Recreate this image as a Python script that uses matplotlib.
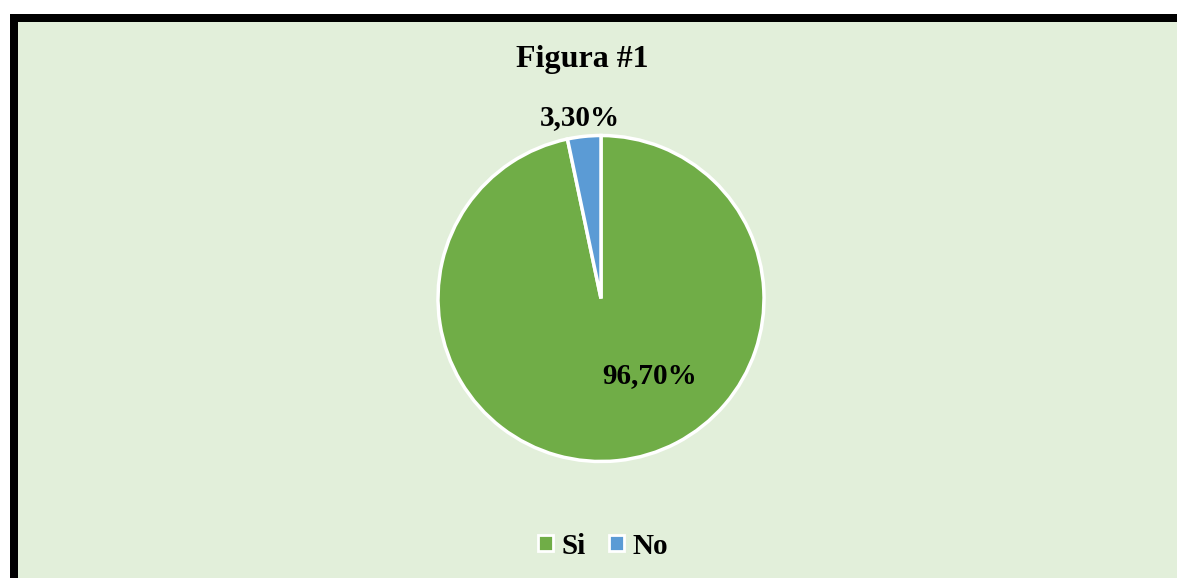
import matplotlib
matplotlib.use('Agg')
import matplotlib.pyplot as plt
from matplotlib.patches import Rectangle, Patch

# datos
categorias = ['Si', 'No']
valores = [96.7, 3.3]
etiquetas = ['96,70%', '3,30%']
colores = ['#70AD47', '#5B9BD5']

plt.rcParams['font.family'] = ['Liberation Serif', 'DejaVu Serif']

W, H = 1177, 578
fig = plt.figure(figsize=(W / 100, H / 100), dpi=100)
fig.patch.set_facecolor('white')

# marco negro con fondo verde claro
marco = Rectangle((14 / W, -0.1), 1.2, (H - 18) / H + 0.1,
                  transform=fig.transFigure, facecolor='#E2EFDA',
                  edgecolor='black', linewidth=8 * 72 / 100, zorder=-10)
fig.patches.append(marco)

cx, cy, r = 601, H - 298.5, 163
ax = fig.add_axes([(cx - r) / W, (cy - r) / H, 2 * r / W, 2 * r / H])
ax.set_facecolor('none')

wedges, _ = ax.pie(valores, colors=colores, startangle=90, counterclock=False,
                   radius=1, wedgeprops=dict(edgecolor='white', linewidth=2.5))
ax.set_xlim(-1, 1)
ax.set_ylim(-1, 1)
ax.set_aspect('equal')
ax.axis('off')

# etiquetas de porcentaje
ax.text(0.30, -0.47, etiquetas[0], ha='center', va='center',
        fontsize=21, fontweight='bold')
ax.text(-0.13, 1.11, etiquetas[1], ha='center', va='center',
        fontsize=21, fontweight='bold')

fig.text(582 / W, 1 - 60 / H, 'Figura #1', ha='center', va='center',
         fontsize=23, fontweight='bold')

handles = [Patch(facecolor=c, edgecolor='white', linewidth=2) for c in colores]
fig.legend(handles, categorias, loc='center', bbox_to_anchor=(603 / W, 1 - 546 / H),
           ncol=2, frameon=False, prop=dict(size=21, weight='bold'),
           handlelength=0.5, handleheight=0.5, handletextpad=0.3, columnspacing=0.8)

fig.savefig('out.png', dpi=100)
